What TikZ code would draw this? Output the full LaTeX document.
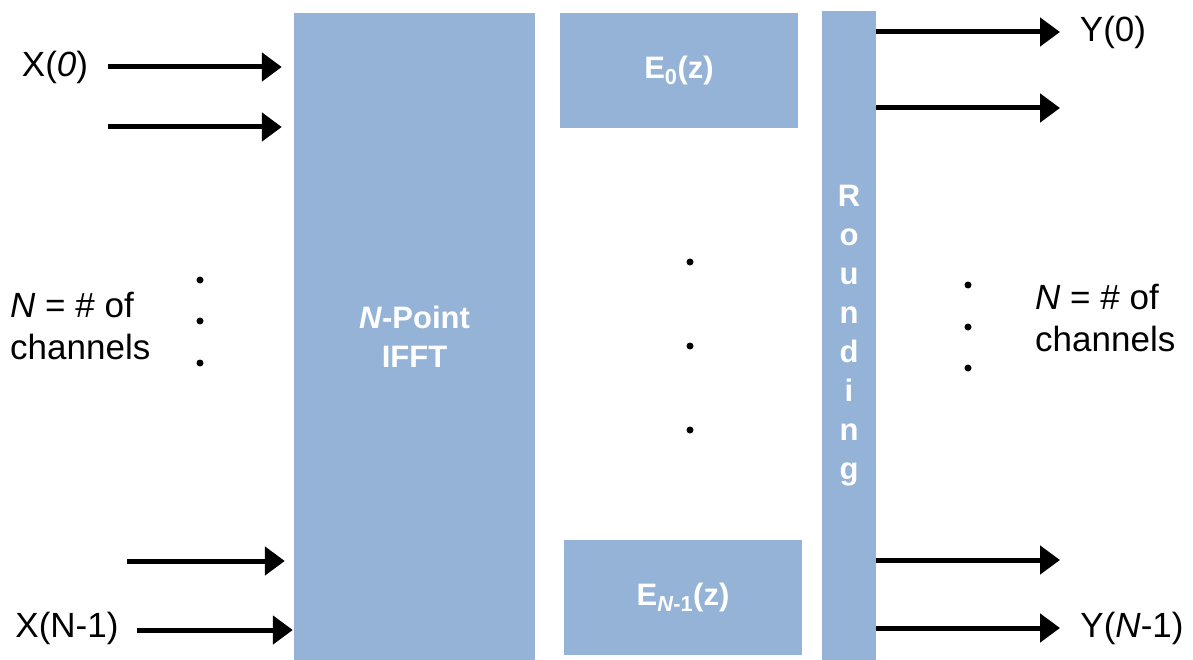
\documentclass[tikz,border=0pt]{standalone}
\usepackage{fontspec}
\setmainfont{Liberation Sans}
\usepackage{xcolor}
\usetikzlibrary{positioning, arrows.meta}
\definecolor{boxblue}{RGB}{149,179,215}
\tikzset{>={Triangle[length=20pt,width=28pt]}}
\tikzset{
  block/.style={fill=boxblue, draw=none, inner sep=0pt, text=white,
    font=\fontsize{31}{39}\selectfont\bfseries, align=center},
  lbl/.style={font=\fontsize{35}{42}\selectfont, inner sep=0pt},
  sig/.style={->, line width=5pt},
  dot/.style={circle, fill=black, minimum size=7pt, inner sep=0pt}
}

\begin{document}
\begin{tikzpicture}[x=1pt, y=-1pt]
    \useasboundingbox (0,0) rectangle (1193,660);

    % blocks
    \node[block, minimum width=241pt, minimum height=647pt] (ifft) at (414.5,336.5)
      {\textit{N}-Point\\IFFT};
    \node[block, minimum width=238pt, minimum height=115pt] (e0) at (679,70.5)
      {E\textsubscript{0}(z)};
    \node[block, minimum width=238pt, minimum height=115pt] (en) at (683,597.5)
      {E\textsubscript{\textit{N}-1}(z)};
    \node[block, minimum width=54pt, minimum height=649pt] (rnd) at (849,335.5)
      {R\\o\\u\\n\\d\\i\\n\\g};

    % inputs
    \node[lbl] (x0) at (55,67) {X(\textit{0})};
    \node[lbl] (xn) at (67,628) {X(N-1)};
    \node[lbl, anchor=west, align=left] (nl) at (10,326) {\textit{N} = \# of\\channels};
    \coordinate (i0) at (108,67);
    \coordinate (i1) at (108,127);
    \coordinate (i2) at (127,561);
    \coordinate (i3) at (137,630);
    \path[sig]
    (i0) edge[shorten >=12pt] (ifft.west |- i0)
    (i1) edge[shorten >=12pt] (ifft.west |- i1)
    (i2) edge[shorten >=9pt] (ifft.west |- i2)
    (i3) edge[shorten >=1pt] (ifft.west |- i3);

    % outputs
    \node[lbl] (y0) at (1113,32) {Y(0)};
    \node[lbl] (yn) at (1132,628) {Y(\textit{N}-1)};
    \node[lbl, anchor=west, align=left] (nr) at (1035,318) {\textit{N} = \# of\\channels};
    \coordinate (o0) at (1060,32);
    \coordinate (o1) at (1060,108);
    \coordinate (o2) at (1060,560);
    \coordinate (o3) at (1060,628);
    \path[sig]
    (rnd.east |- o0) edge (o0)
    (rnd.east |- o1) edge (o1)
    (rnd.east |- o2) edge (o2)
    (rnd.east |- o3) edge (o3);

    % dots
    \foreach \y in {280,321,363} \node[dot] (ld\y) at (200,\y) {};
    \foreach \y in {262,346,430} \node[dot] (md\y) at (690,\y) {};
    \foreach \y in {285,327,368} \node[dot] (rd\y) at (968,\y) {};
\end{tikzpicture}
\end{document}
